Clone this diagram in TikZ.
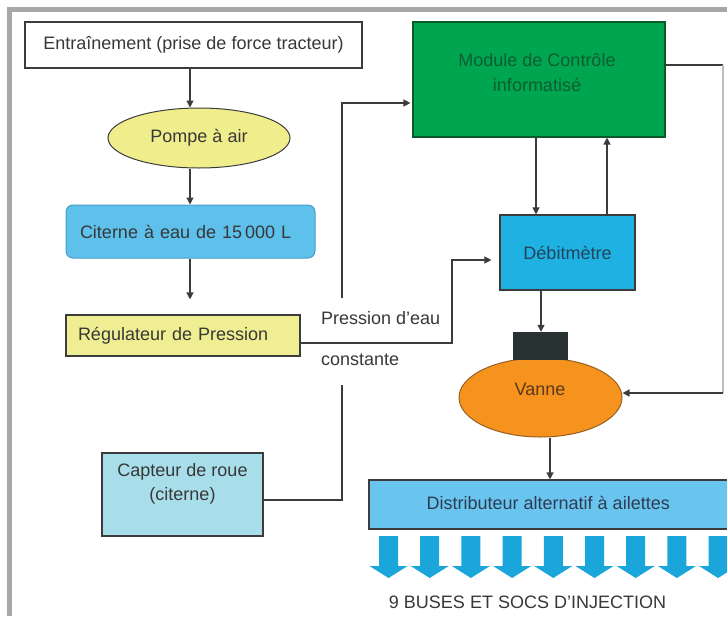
\documentclass[tikz,border=0pt]{standalone}
\usepackage{fontspec}
\setmainfont{Liberation Sans}
\usetikzlibrary{shapes.geometric,arrows.meta,calc}
\definecolor{framegray}{HTML}{A7A7A7}
\definecolor{linegray}{HTML}{3C3C3C}
\definecolor{txtgray}{HTML}{383838}
\definecolor{pompeyellow}{HTML}{F0EE8C}
\definecolor{citblue}{HTML}{5EC1EC}
\definecolor{citborder}{HTML}{4A9CC8}
\definecolor{regyellow}{HTML}{EFEE92}
\definecolor{modgreen}{HTML}{00A550}
\definecolor{modborder}{HTML}{0B5A2C}
\definecolor{modtext}{HTML}{0E5E30}
\definecolor{debblue}{HTML}{1FB1E1}
\definecolor{debtext}{HTML}{23435C}
\definecolor{blkfill}{HTML}{283232}
\definecolor{vanorange}{HTML}{F6931E}
\definecolor{vanborder}{HTML}{9A5E20}
\definecolor{vantext}{HTML}{5A3A1A}
\definecolor{distblue}{HTML}{6AC5EE}
\definecolor{disttext}{HTML}{2D3B55}
\definecolor{nozzle}{HTML}{1AA6DA}
\definecolor{capblue}{HTML}{A8DDEA}
\definecolor{faintline}{HTML}{BDBDBD}
\tikzset{
  lbl/.style={font=\fontsize{18}{24}\selectfont, text=txtgray, inner sep=0pt},
  boxnode/.style={rectangle, draw=linegray, line width=1.2pt, font=\fontsize{18}{24}\selectfont, text=txtgray, inner sep=0pt},
  wire/.style={draw=linegray, line width=1.3pt},
  conn/.style={wire, -{Triangle[length=7pt,width=7pt]}}
}
\begin{document}
\begin{tikzpicture}[x=1pt,y=-1pt]
\useasboundingbox (0,0) rectangle (727,616);
\fill[white] (0,0) rectangle (727,616);
% outer frame
\draw[framegray, line width=5pt] (9.5,616) -- (9.5,9.5) -- (727,9.5);

% left column
\node[boxnode, fill=white, minimum width=337pt, minimum height=46pt] (ent) at (193.5,45) {Entraînement (prise de force tracteur)};
\node[ellipse, draw=linegray, line width=1pt, fill=pompeyellow, minimum width=182pt, minimum height=60pt, inner sep=0pt, font=\fontsize{18}{24}\selectfont, text=txtgray] (pompe) at (199,138) {Pompe à air};
\node[rectangle, rounded corners=7pt, draw=citborder, line width=1pt, fill=citblue, minimum height=53pt, text width=221pt, inner xsep=14pt, align=left, font=\fontsize{18}{24}\selectfont, text=txtgray] (cit) at (190.5,231.5) {Citerne à eau de 15\,000 L};
\node[boxnode, fill=regyellow, minimum height=41pt, text width=210pt, inner xsep=12pt, align=left] (reg) at (183,335.5) {Régulateur de Pression};
\node[boxnode, fill=capblue, line width=1.8pt, minimum width=161pt, minimum height=83pt] (cap) at (182.5,494.5) {};
\node[lbl, align=center] (capt) at (182.5,484) {Capteur de roue\\(citerne)};

% right column
\node[rectangle, draw=modborder, line width=1.2pt, fill=modgreen, minimum width=252pt, minimum height=115pt] (mod) at (539,79.5) {};
\node[lbl, align=center, text=modtext, font=\fontsize{18}{25}\selectfont] (modt) at (537,73) {Module de Contrôle\\informatisé};
\node[boxnode, fill=debblue, minimum width=135pt, minimum height=75pt, text=debtext] (deb) at (567.5,252.5) {Débitmètre};
\node[ellipse, draw=vanborder, line width=1pt, fill=vanorange, minimum width=163pt, minimum height=79pt, inner sep=0pt] (van) at (540.5,397.5) {};
\node[lbl, text=vantext] (vant) at (540,389) {Vanne};
\node[rectangle, fill=blkfill, minimum width=55pt, minimum height=28pt, inner sep=0pt] (blk) at (540.5,346) {};
\node[boxnode, fill=distblue, minimum width=358.5pt, minimum height=49pt, text=disttext] (dist) at (548.25,504.5) {\raisebox{3pt}{Distributeur alternatif à ailettes}};

% nozzles
\foreach \i in {0,...,8}{
  \pgfmathsetmacro\cx{388.5+41.2*\i}
  \fill[nozzle] (\cx-9.5,536) -- (\cx+9.5,536) -- (\cx+9.5,566) -- (\cx+19,566) -- (\cx,578) -- (\cx-19,566) -- (\cx-9.5,566) -- cycle;
}
\node[lbl] (buses) at (527.5,602) {9 BUSES ET SOCS D'INJECTION};

% labels
\node[lbl, anchor=west] (pres) at (321,318) {Pression d'eau};
\node[lbl, anchor=west] (const) at (321,360) {constante};

% connectors
\coordinate (c190) at (190,0);
\draw[conn] (ent.south -| c190) -- (pompe.north -| c190);
\draw[conn] (pompe.south -| c190) -- (cit.north -| c190);
\draw[conn, shorten >=15pt] (cit.south -| c190) -- (reg.north -| c190);

\coordinate (k1) at (452,343);
\coordinate (k2) at (452,260);
\draw[conn, shorten >=8pt] (reg.east |- k1) -- (k1) -- (k2) -- (deb.west |- k2);

\coordinate (p1) at (342,500);
\coordinate (p2) at (342,385);
\draw[wire] (cap.east |- p1) -- (p1) -- (p2);
\coordinate (p3) at (342,298);
\coordinate (p4) at (342,103);
\draw[conn, shorten >=2pt] (p3) -- (p4) -- (mod.west |- p4);

\coordinate (m1) at (536,0);
\draw[conn] (mod.south -| m1) -- (deb.north -| m1);
\coordinate (m2) at (607,0);
\draw[conn] (deb.north -| m2) -- (mod.south -| m2);
\coordinate (m3) at (541,0);
\draw[conn] (deb.south -| m3) -- (blk.north -| m3);

\coordinate (r1) at (723,65);
\coordinate (r2) at (723,393);
\draw[wire] (mod.east |- r1) -- (r1);
\draw[faintline, line width=1.3pt] (r1) -- (r2);
\draw[conn] (r2) -- (van.east |- r2);

\coordinate (m4) at (550,0);
\draw[conn] (van.south -| m4) -- (dist.north -| m4);
\end{tikzpicture}
\end{document}
